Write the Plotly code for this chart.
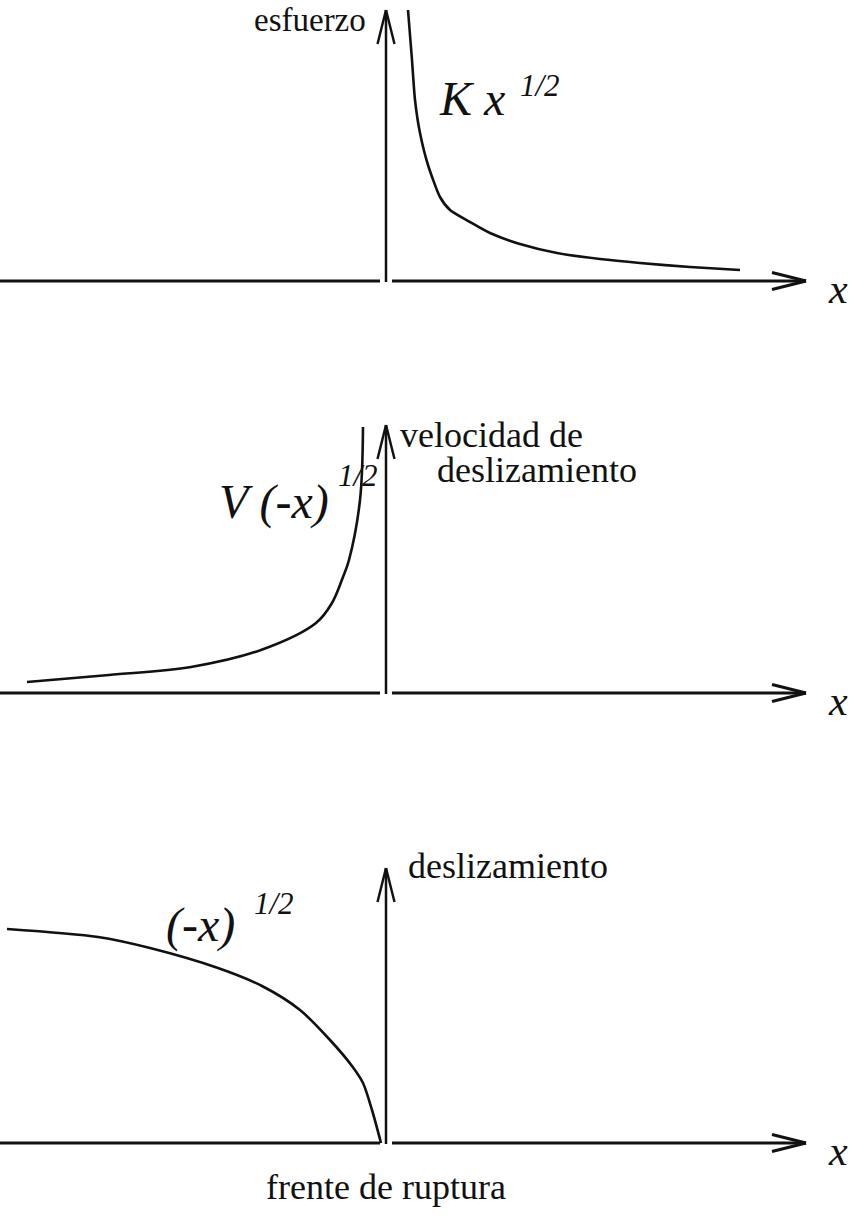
import plotly.graph_objects as go

W, H = 854, 1218
UNIT = 100          # pixels per data unit (both directions)
FRONT_PX = 386      # pixel column of the rupture front, x = 0
FONT = "Liberation Serif"
INK = "#111111"

# ---- data -------------------------------------------------------------
# stress ahead of the rupture front (x > 0)
stress_x = [0.22, 0.26, 0.29, 0.34, 0.42, 0.54, 0.64, 0.84, 1.04, 1.34, 1.71, 2.14, 2.54, 3.04, 3.54]
stress_y = [2.71, 2.21, 1.81, 1.48, 1.16, 0.84, 0.71, 0.59, 0.48, 0.37, 0.28, 0.22, 0.18, 0.14, 0.11]

# slip velocity behind the front (x < 0)
velocity_x = [-3.59, -2.77, -1.95, -1.25, -0.70, -0.54, -0.43, -0.37, -0.26, -0.23]
velocity_y = [0.11, 0.18, 0.26, 0.43, 0.70, 0.90, 1.16, 1.33, 1.93, 2.66]

# accumulated slip behind the front (x < 0)
slip_x = [-3.79, -2.88, -2.36, -1.68, -1.24, -0.86, -0.56, -0.34, -0.23, -0.14, -0.05]
slip_y = [2.14, 2.06, 1.95, 1.75, 1.57, 1.33, 1.03, 0.77, 0.60, 0.33, 0.0]

# ---- panel geometry ----------------------------------------------------
panels = [
    dict(axis=281, top=0, bottom=340, tip=2.71, smooth=0.6),
    dict(axis=693, top=380, bottom=780, tip=2.68, smooth=1.0),
    dict(axis=1143, top=800, bottom=1218, tip=2.75, smooth=0.8),
]

x_left = -FRONT_PX / UNIT
x_right = (W - FRONT_PX) / UNIT
x_tip = 4.20
head_len, head_half = 0.34, 0.085
gap = (-0.06, 0.06)

fig = go.Figure()
layout = dict(
    width=W, height=H,
    margin=dict(l=0, r=0, t=0, b=0),
    paper_bgcolor="white", plot_bgcolor="white",
    showlegend=False,
    xaxis=dict(range=[x_left, x_right], domain=[0, 1], visible=False, fixedrange=True),
)
shapes = []


def yname(i):
    return "y" if i == 0 else f"y{i + 1}"


for i, p in enumerate(panels):
    key = "yaxis" if i == 0 else f"yaxis{i + 1}"
    layout[key] = dict(
        domain=[1 - p["bottom"] / H, 1 - p["top"] / H],
        range=[(p["axis"] - p["bottom"]) / UNIT, (p["axis"] - p["top"]) / UNIT],
        visible=False, fixedrange=True, anchor="x",
    )
    yr = yname(i)
    line = dict(color=INK, width=3)
    # horizontal axis, with the small break at the front
    shapes.append(dict(type="line", xref="x", yref=yr, x0=x_left, x1=gap[0], y0=0, y1=0, line=line))
    shapes.append(dict(type="line", xref="x", yref=yr, x0=gap[1], x1=x_tip, y0=0, y1=0, line=line))
    # open arrowhead on the x axis
    for s in (1, -1):
        shapes.append(dict(type="line", xref="x", yref=yr, x0=x_tip - head_len, y0=s * head_half,
                           x1=x_tip, y1=0, line=line))
    # vertical axis with open arrowhead
    vline = dict(color=INK, width=2.5)
    shapes.append(dict(type="line", xref="x", yref=yr, x0=0, x1=0, y0=-0.01, y1=p["tip"], line=vline))
    for s in (1, -1):
        shapes.append(dict(type="line", xref="x", yref=yr, x0=s * head_half, y0=p["tip"] - head_len,
                           x1=0, y1=p["tip"], line=vline))

curves = [(stress_x, stress_y, "y"), (velocity_x, velocity_y, "y2"), (slip_x, slip_y, "y3")]
for (xs, ys, ya), p in zip(curves, panels):
    fig.add_trace(go.Scatter(x=xs, y=ys, xaxis="x", yaxis=ya, mode="lines", hoverinfo="skip",
                             line=dict(color=INK, width=2.6, shape="spline", smoothing=p["smooth"])))


def label(text, x, y, yref, size, xanchor="center", italic=False):
    t = f"<i>{text}</i>" if italic else text
    return dict(text=t, x=x, y=y, xref="x", yref=yref, showarrow=False, xanchor=xanchor,
                yanchor="middle", font=dict(family=FONT, size=size, color=INK))


WORD = 36
annotations = [
    # panel 1
    label("esfuerzo", -0.18, 2.61, "y", 33, xanchor="right"),
    label("K x", 0.86, 1.83, "y", 48, italic=True),
    label("1/2", 1.54, 1.96, "y", 31, italic=True),
    label("x", 4.52, -0.08, "y", 42, italic=True),
    # panel 2
    label("V (-x)", -1.12, 1.91, "y2", 48, italic=True),
    label("1/2", -0.28, 2.18, "y2", 31, italic=True),
    label("velocidad de", 0.12, 2.58, "y2", WORD, xanchor="left"),
    label("deslizamiento", 0.49, 2.23, "y2", WORD, xanchor="left"),
    label("x", 4.52, -0.08, "y2", 42, italic=True),
    # panel 3
    label("(-x)", -1.86, 2.18, "y3", 48, italic=True),
    label("1/2", -1.12, 2.40, "y3", 31, italic=True),
    label("deslizamiento", 0.20, 2.77, "y3", WORD, xanchor="left"),
    label("x", 4.52, -0.08, "y3", 42, italic=True),
    label("frente de ruptura", 0.0, -0.44, "y3", WORD),
]

layout["shapes"] = shapes
layout["annotations"] = annotations
fig.update_layout(**layout)
fig.write_html("out.html")
